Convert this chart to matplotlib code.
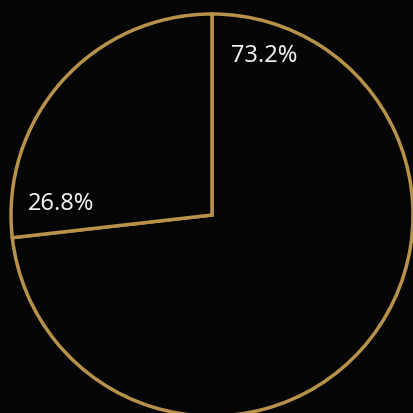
import numpy as np
import matplotlib
matplotlib.use("Agg")
import matplotlib.pyplot as plt

# slice values (percent)
labels = ["A", "B"]
values = [73.2, 26.8]

bg = "#050505"
edge = "#b8924a"

fig = plt.figure(figsize=(4.14, 4.14), dpi=100, facecolor=bg)
ax = fig.add_axes([0, 0, 1, 1])
ax.set_facecolor(bg)

wedges, _ = ax.pie(values, startangle=90, counterclock=False,
                   colors=[bg, bg],
                   wedgeprops=dict(edgecolor=edge, linewidth=2.5))

# labels sit just past the start of each slice
offsets = [18, 11]
radii = [0.835, 0.755]
start = 90.0
for v, off, r in zip(values, offsets, radii):
    a = np.deg2rad(start - off)
    ax.text(r * np.cos(a), r * np.sin(a), f"{v:.1f}%", color="#eeeeee",
            fontsize=17, family=["Noto Sans", "DejaVu Sans"],
            ha="center", va="center")
    start -= v / 100 * 360

ax.set_xlim(-212 / 201, 202 / 201)
ax.set_ylim(-198 / 201, 216 / 201)
ax.set_aspect("equal")
ax.axis("off")

fig.savefig("out.png", dpi=100, facecolor=bg)
